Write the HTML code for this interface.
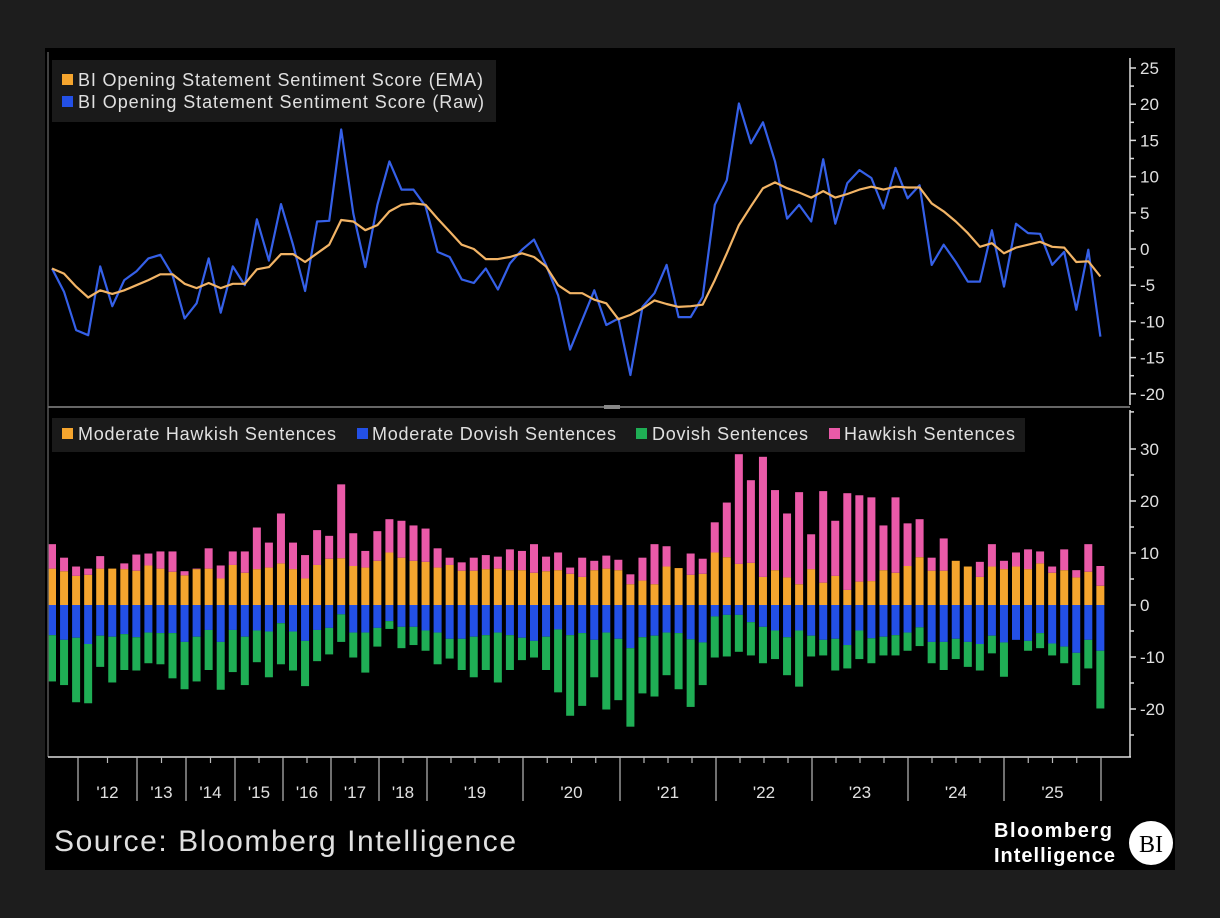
<!DOCTYPE html>
<html><head><meta charset="utf-8">
<style>
html,body{margin:0;padding:0;background:#1d1d1d;}
svg{display:block;font-family:"Liberation Sans",sans-serif;}
</style></head>
<body>
<svg id="chart" width="1220" height="918" viewBox="0 0 1220 918">
<rect x="0" y="0" width="1220" height="918" fill="#1d1d1d"/>
<rect x="45" y="48" width="1130" height="822" fill="#000"/>
<g id="topG"></g>
<g id="botG"></g>
<g id="frame">
<line x1="48" y1="52" x2="48" y2="757" stroke="#555" stroke-width="1.5"/>
<line x1="48" y1="407" x2="1130" y2="407" stroke="#666" stroke-width="2"/>
<rect x="604" y="405" width="16" height="4" fill="#888"/>
<line x1="1130" y1="58" x2="1130" y2="405" stroke="#ddd" stroke-width="1.5"/>
<line x1="1130" y1="410" x2="1130" y2="757" stroke="#ddd" stroke-width="1.5"/>
<line x1="48" y1="757" x2="1131" y2="757" stroke="#ddd" stroke-width="1.5"/>
</g>
<g>
<rect x="52" y="60" width="444" height="62" fill="#1a1a1a"/>
<rect x="62" y="74" width="11" height="11" fill="#f5a52e"/>
<text x="78" y="86" font-size="18" fill="#e0e0e0" textLength="405">BI Opening Statement Sentiment Score (EMA)</text>
<rect x="62" y="96" width="11" height="11" fill="#2350e6"/>
<text x="78" y="108" font-size="18" fill="#e0e0e0" textLength="406">BI Opening Statement Sentiment Score (Raw)</text>
</g>
<g>
<rect x="52" y="418" width="973" height="34" fill="#1a1a1a"/>
<rect x="62" y="428" width="11" height="11" fill="#f5a52e"/>
<text x="78" y="440" font-size="18" fill="#e0e0e0" textLength="258">Moderate Hawkish Sentences</text>
<rect x="357" y="428" width="11" height="11" fill="#2350e6"/>
<text x="372" y="440" font-size="18" fill="#e0e0e0" textLength="244">Moderate Dovish Sentences</text>
<rect x="636" y="428" width="11" height="11" fill="#1fae55"/>
<text x="652" y="440" font-size="18" fill="#e0e0e0" textLength="156">Dovish Sentences</text>
<rect x="829" y="428" width="11" height="11" fill="#ea5aa8"/>
<text x="844" y="440" font-size="18" fill="#e0e0e0" textLength="171">Hawkish Sentences</text>
</g>
<g id="xaxisG"></g>
<text x="54" y="851" font-size="30" fill="#e0e0e0" textLength="462">Source: Bloomberg Intelligence</text>
<g>
<text x="994" y="837" font-size="20" font-weight="bold" fill="#fff" textLength="118">Bloomberg</text>
<text x="994" y="862" font-size="20" font-weight="bold" fill="#fff" textLength="121">Intelligence</text>
<circle cx="1151" cy="843" r="22" fill="#fff"/>
<text x="1151" y="852" font-size="24" fill="#000" text-anchor="middle" font-family="Liberation Serif, serif">BI</text>
</g>
</svg>
<script>
const rawScore=[-2.7,-5.9,-11.2,-11.9,-2.4,-7.9,-4.3,-3.1,-1.3,-0.8,-3.6,-9.6,-7.5,-1.3,-8.8,-2.4,-5.0,4.1,-1.6,6.2,0.6,-5.8,3.8,3.9,16.5,4.9,-2.5,6.1,12.1,8.2,
8.2,5.9,-0.4,-1.1,-4.2,-4.7,-2.7,-5.6,-2.0,-0.1,1.3,-2.2,-6.4,-13.9,-9.8,-5.7,-10.5,-9.6,-17.4,-8.0,-6.1,-2.2,-9.4,-9.4,-6.6,6.1,9.5,20.1,14.6,17.5,
12.1,4.2,6.1,3.8,12.4,3.5,9.1,10.9,9.8,5.6,11.2,7.0,8.8,-2.2,0.6,-1.8,-4.5,-4.5,2.6,-5.2,3.5,2.2,2.1,-2.2,-0.4,-8.4,-0.1,-12.1];
const emaScore=[-2.7,-3.4,-5.2,-6.7,-5.7,-6.2,-5.7,-5.0,-4.3,-3.5,-3.5,-4.8,-5.4,-4.7,-5.4,-4.8,-4.8,-2.8,-2.5,-0.7,-0.7,-1.8,-0.6,0.6,4.0,3.8,2.6,3.3,5.2,6.1,
6.3,6.1,4.2,2.4,0.6,0,-1.4,-1.4,-1.1,-0.6,-1.1,-2.4,-5.0,-6.1,-6.1,-7.0,-7.5,-9.7,-9.1,-8.2,-7.1,-7.6,-8.0,-7.9,-7.7,-4.3,-0.6,3.3,5.9,8.4,
9.2,8.4,7.8,7.1,8.0,7.1,7.6,8.2,8.6,8.2,8.6,8.5,8.5,6.3,5.2,3.8,2.2,0.3,0.8,-0.6,0.2,0.6,1.0,0.3,0.2,-1.8,-1.7,-3.8];
const modHawkish=[7.0,6.5,5.6,5.8,7.0,7.0,6.9,6.6,7.6,7.0,6.4,5.7,6.9,7.0,5.1,7.7,6.2,6.9,7.2,8.0,6.9,5.1,7.7,8.9,9.0,7.5,7.2,8.5,10.1,9.1,
8.5,8.3,7.2,7.7,6.6,6.6,6.9,7.0,6.7,6.7,6.2,6.5,6.7,6.0,5.4,6.7,7.0,6.7,4.0,4.7,4.0,7.4,7.1,5.8,6.0,10.1,9.2,7.9,8.1,5.4,
6.7,5.3,4.0,6.9,4.3,5.6,2.9,4.5,4.6,6.7,6.2,7.5,9.2,6.6,6.6,8.5,7.4,5.4,7.4,6.9,7.4,6.9,8.0,6.2,6.7,5.3,6.4,3.7];
const hawkish=[4.7,2.6,1.8,1.2,2.4,0,1.1,3.1,2.3,3.3,3.9,0.8,0.1,3.9,2.5,2.6,4.1,8.0,4.8,9.6,5.1,4.5,6.7,4.4,14.2,6.3,3.2,5.7,6.4,7.1,
6.8,6.4,3.7,1.4,1.6,2.5,2.7,2.3,4.0,3.7,5.5,2.8,3.4,1.2,3.7,1.8,2.5,2.0,1.9,4.4,7.7,3.9,0,4.1,2.9,5.8,10.5,21.1,15.9,23.1,
15.4,12.3,17.7,6.7,17.6,10.6,18.6,16.6,16.1,8.6,14.5,8.2,7.3,2.5,6.2,0,0,2.9,4.3,1.6,2.7,3.8,2.3,1.2,4.0,1.4,5.3,3.8];
const modDovish=[-5.8,-6.7,-6.3,-7.5,-5.9,-6.1,-5.6,-6.2,-5.3,-5.4,-5.4,-7.1,-6.1,-4.8,-7.1,-4.8,-6.1,-4.9,-5.1,-3.5,-5.1,-6.9,-4.8,-4.4,-1.8,-5.3,-5.3,-4.4,-3.1,-4.2,
-4.2,-4.9,-5.3,-6.5,-6.5,-6.1,-5.8,-5.3,-5.8,-6.3,-6.9,-6.1,-4.7,-5.8,-5.4,-6.7,-5.3,-6.5,-8.3,-6.2,-5.9,-5.3,-5.4,-6.6,-7.2,-2.2,-1.9,-1.9,-3.3,-4.2,
-4.9,-6.2,-4.9,-5.9,-6.7,-6.5,-7.7,-4.9,-6.4,-6.1,-5.8,-5.3,-4.3,-7.1,-7.1,-6.5,-7.1,-7.5,-5.9,-7.2,-6.7,-6.9,-5.4,-7.4,-8.0,-9.2,-6.7,-8.8];
const dovish=[-8.9,-8.7,-12.4,-11.4,-6.0,-8.8,-6.9,-6.4,-5.9,-6.0,-8.7,-9.1,-8.6,-7.7,-9.2,-8.1,-9.3,-6.1,-8.8,-7.9,-7.5,-8.7,-6.0,-5.1,-5.3,-4.8,-7.7,-3.6,-1.5,-4.1,
-3.5,-3.9,-6.1,-3.8,-6.0,-7.8,-6.7,-9.6,-6.7,-4.3,-3.2,-6.4,-12.1,-15.5,-14.0,-7.2,-14.8,-11.8,-15.1,-10.8,-11.7,-8.2,-10.8,-13.0,-8.2,-7.9,-8.0,-7.1,-6.4,-7.0,
-5.5,-7.3,-10.8,-4.0,-3.0,-6.1,-4.5,-5.5,-4.8,-3.6,-3.9,-3.5,-3.6,-4.1,-5.4,-3.9,-4.8,-5.1,-3.4,-6.6,0,-1.9,-2.9,-2.3,-3.2,-6.2,-5.5,-11.1];
const topTicks=[25,20,15,10,5,0,-5,-10,-15,-20];
const bottomTicks=[30,20,10,0,-10,-20];
const yearLabels=["'12","'13","'14","'15","'16","'17","'18","'19","'20","'21","'22","'23","'24","'25"];
const yearBounds=[78,137,186,235,283,331,379,427,523,620,716,812,908,1004,1101];

const NS="http://www.w3.org/2000/svg";
function mk(tag,attrs,parent){const e=document.createElementNS(NS,tag);for(const k in attrs)e.setAttribute(k,attrs[k]);parent.appendChild(e);return e;}
const xS=i=>52+i*12.05;
const yT=v=>249-v*7.24;
const yB=v=>605-v*5.2;
const topG=document.getElementById('topG'), botG=document.getElementById('botG'), xaG=document.getElementById('xaxisG');

for(let v=25;v>=-22.5;v-=2.5){
  const major=(v%5===0);
  const t=mk('line',{x1:1130,x2:major?1136:1134,y1:yT(v),y2:yT(v),stroke:'#ddd','stroke-width':1.5},topG);
  
  
}
topTicks.forEach(v=>{
  const t=mk('text',{x:1140,y:yT(v)+6,'font-size':17,fill:'#e0e0e0'},topG);
  t.textContent=v;
  
  
});
function pathOf(arr){return arr.map((v,i)=>(i?'L':'M')+xS(i).toFixed(1)+' '+yT(v).toFixed(1)).join(' ');}
const raw=mk('path',{d:pathOf(rawScore),fill:'none',stroke:'#3560e8','stroke-width':2.2,'stroke-linejoin':'round'},topG);


const ema=mk('path',{d:pathOf(emaScore),fill:'none',stroke:'#f2b466','stroke-width':2.2,'stroke-linejoin':'round'},topG);



for(let v=30;v>=-25;v-=5){
  const major=(v%10===0);
  const t=mk('line',{x1:1130,x2:major?1136:1134,y1:yB(v),y2:yB(v),stroke:'#ddd','stroke-width':1.5},botG);
  
  
}
bottomTicks.forEach(v=>{
  const t=mk('text',{x:1140,y:yB(v)+6,'font-size':17,fill:'#e0e0e0'},botG);
  t.textContent=v;
  
  
});
const bw=8;
modHawkish.forEach((mh,i)=>{
  const x=xS(i)-bw/2;
  const a=mk('rect',{x:x,y:yB(mh),width:bw,height:yB(0)-yB(mh),fill:'#f5a52e'},botG);
  
  
  const h=hawkish[i];
  const b=mk('rect',{x:x,y:yB(mh+h),width:bw,height:yB(mh)-yB(mh+h),fill:'#ea5aa8'},botG);
  
  
  const md=modDovish[i];
  const c=mk('rect',{x:x,y:yB(0),width:bw,height:yB(md)-yB(0),fill:'#2350e6'},botG);
  
  
  const d=dovish[i];
  const e=mk('rect',{x:x,y:yB(md),width:bw,height:yB(md+d)-yB(md),fill:'#1fae55'},botG);
  
  
});

yearBounds.forEach(x=>{
  const l=mk('line',{x1:x,x2:x,y1:757,y2:801,stroke:'#bbb','stroke-width':1.2},xaG);
  
  
});
for(let k=0;k<yearBounds.length-1;k++){
  const a=yearBounds[k],b=yearBounds[k+1],n=(b-a)>60?4:2;
  for(let j=1;j<n;j++){
    const x=a+(b-a)*j/n;
    const t=mk('line',{x1:x,x2:x,y1:757,y2:763,stroke:'#bbb','stroke-width':1.2},xaG);
    
    
  }
}
yearLabels.forEach((lab,k)=>{
  const cx=(yearBounds[k]+yearBounds[k+1])/2;
  const t=mk('text',{x:cx,y:798,'font-size':17,fill:'#e0e0e0','text-anchor':'middle'},xaG);
  t.textContent=lab;
  
  
});
</script>
</body></html>
